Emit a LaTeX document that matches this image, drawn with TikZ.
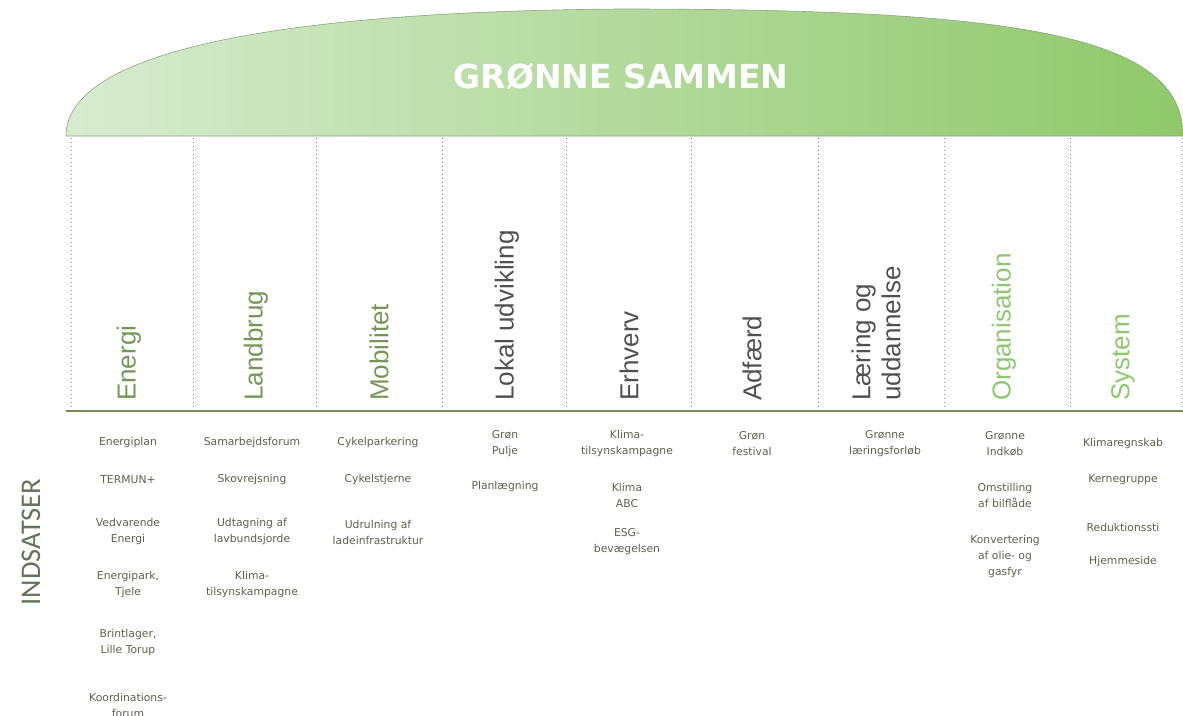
\documentclass[tikz,border=0pt]{standalone}
\usepackage{fontspec}
\setmainfont{Liberation Sans}
\newfontfamily\itemfont{DejaVu Sans}
\newfontfamily\titlefont{DejaVu Sans}
\newfontfamily\sidefont{Carlito}
\definecolor{domeL}{RGB}{216,235,208}
\definecolor{domeR}{RGB}{143,200,106}
\definecolor{domeline}{RGB}{138,168,122}
\definecolor{hdrolive}{RGB}{118,150,88}
\definecolor{hdrgray}{RGB}{80,80,80}
\definecolor{hdrgreen}{RGB}{141,200,110}
\definecolor{itemcol}{RGB}{88,98,78}
\definecolor{sepgray}{RGB}{140,140,140}
\definecolor{basecol}{RGB}{118,138,88}
\definecolor{sidecol}{RGB}{100,115,90}
\tikzset{
  hdr/.style={rotate=90, anchor=west, inner sep=0pt, align=left,
    font=\fontsize{26}{30}\selectfont},
  item/.style={align=center, inner sep=0pt, text=itemcol,
    font=\itemfont\fontsize{10.8}{16}\selectfont},
  sepline/.style={draw=sepgray, line width=0.8pt, dash pattern=on 0.8pt off 3.2pt},
  baseln/.style={draw=basecol, line width=2pt},
}
\begin{document}
\begin{tikzpicture}[x=1pt,y=-1pt]
\useasboundingbox (0,0) rectangle (1183,715);
% dome
\shade[left color=domeL, right color=domeR, draw=domeline, line width=0.6pt]
  (66,136) .. controls (66,62) and (230,12) .. (620,9)
  .. controls (1020,9) and (1183,35) .. (1183,136) -- cycle;
\node[text=white, font=\titlefont\bfseries\fontsize{33}{33}\selectfont, anchor=base] (title) at (621,88) {GRØNNE SAMMEN};
% separators
\foreach \x in {71,193,316,442,566,691,818,944,1070,1182}
  \draw[sepline] (\x,138) -- (\x,410);
\draw[baseln] (66,411) -- (1183,411);
% headers
\node[hdr, text=hdrolive] (h1) at (129,401) {Energi};
\node[hdr, text=hdrolive] (h2) at (256,401) {Landbrug};
\node[hdr, text=hdrolive] (h3) at (379,401) {Mobilitet};
\node[hdr, text=hdrgray] (h4) at (507,401) {Lokal udvikling};
\node[hdr, text=hdrgray] (h5) at (629,401) {Erhverv};
\node[hdr, text=hdrgray] (h6) at (752,401) {Adfærd};
\node[hdr, text=hdrgray] (h7) at (876,401) {Læring og\\uddannelse};
\node[hdr, text=hdrgreen] (h8) at (1004,401) {Organisation};
\node[hdr, text=hdrgreen] (h9) at (1123,401) {System};
% side label
\node[rotate=90, text=sidecol, inner sep=0pt, font=\sidefont\fontsize{28.5}{28.5}\selectfont] (ind) at (31,542) {INDSATSER};
% column 1
\node[item] (e1) at (128,443) {Energiplan};
\node[item] (e2) at (128,480) {TERMUN+};
\node[item] (e3) at (128,532) {Vedvarende\\Energi};
\node[item] (e4) at (128,585) {Energipark,\\Tjele};
\node[item] (e5) at (128,643) {Brintlager,\\Lille Torup};
\node[item] (e6) at (128,705) {Koordinations-\\forum};
% column 2
\node[item] (l1) at (252,443) {Samarbejdsforum};
\node[item] (l2) at (252,480) {Skovrejsning};
\node[item] (l3) at (252,532) {Udtagning af\\lavbundsjorde};
\node[item] (l4) at (252,585) {Klima-\\tilsynskampagne};
% column 3
\node[item] (m1) at (378,443) {Cykelparkering};
\node[item] (m2) at (378,480) {Cykelstjerne};
\node[item] (m3) at (378,532) {Udrulning af\\ladeinfrastruktur};
% column 4
\node[item] (u1) at (505,444) {Grøn\\Pulje};
\node[item] (u2) at (505,487) {Planlægning};
% column 5
\node[item] (v1) at (627,444) {Klima-\\tilsynskampagne};
\node[item] (v2) at (627,495) {Klima\\ABC};
\node[item] (v3) at (627,542) {ESG-\\bevægelsen};
% column 6
\node[item] (a1) at (752,444) {Grøn\\festival};
% column 7
\node[item] (d1) at (885,444) {Grønne\\læringsforløb};
% column 8
\node[item] (o1) at (1005,444) {Grønne\\Indkøb};
\node[item] (o2) at (1005,495) {Omstilling\\af bilflåde};
\node[item] (o3) at (1005,557) {Konvertering\\af olie- og\\gasfyr};
% column 9
\node[item] (s1) at (1123,444) {Klimaregnskab};
\node[item] (s2) at (1123,480) {Kernegruppe};
\node[item] (s3) at (1123,527) {Reduktionssti};
\node[item] (s4) at (1123,562) {Hjemmeside};
\end{tikzpicture}
\end{document}
